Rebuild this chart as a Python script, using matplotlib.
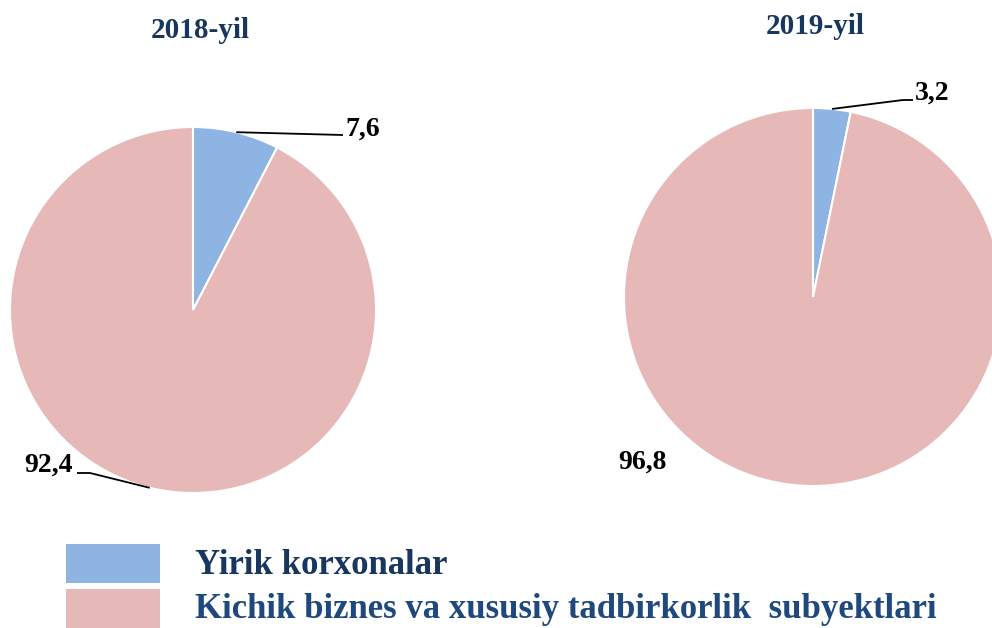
import numpy as np
import matplotlib
matplotlib.use("Agg")
import matplotlib.pyplot as plt
from matplotlib.patches import Rectangle

# ---- data ----
categories = ["Yirik korxonalar", "Kichik biznes va xususiy tadbirkorlik  subyektlari"]
years = ["2018-yil", "2019-yil"]
values_2018 = [7.6, 92.4]
values_2019 = [3.2, 96.8]
labels_2018 = ["7,6", "92,4"]
labels_2019 = ["3,2", "96,8"]

colors = ["#8EB4E3", "#E6B9B8"]
navy = "#17375E"
W, H = 992, 628

plt.rcParams['font.family'] = ['Liberation Serif', 'DejaVu Serif']

fig = plt.figure(figsize=(W / 100, H / 100), dpi=100)
ax = fig.add_axes([0, 0, 1, 1])

def py(y):
    return H - y

pies = [
    dict(vals=values_2018, labs=labels_2018, title=years[0], c=(193, py(310)), r=183,
         title_xy=(200, py(30)),
         lab=[dict(txt=(345, py(129)), ha='left', elbow=(343, py(135))),
              dict(txt=(73, py(465)), ha='right', elbow=(90, py(473)), elbow2=(77, py(473)))]),
    dict(vals=values_2019, labs=labels_2019, title=years[1], c=(813, py(297)), r=189,
         title_xy=(815, py(26)),
         lab=[dict(txt=(915, py(93)), ha='left', elbow=(903, py(100)), elbow2=(913, py(100))),
              dict(txt=(667, py(462)), ha='right', elbow=None)]),
]

for p in pies:
    wedges, _ = ax.pie(p['vals'], colors=colors, startangle=90, counterclock=False,
                       center=p['c'], radius=p['r'],
                       wedgeprops=dict(edgecolor='white', linewidth=1.5))
    cum = np.cumsum([0] + list(p['vals']))
    tot = cum[-1]
    for i, (v, lab) in enumerate(zip(p['vals'], p['labs'])):
        L = p['lab'][i]
        mid = (cum[i] + v / 2) / tot * 360  # clockwise from top
        th = np.deg2rad(90 - mid)
        ax_x = p['c'][0] + p['r'] * np.cos(th)
        ax_y = p['c'][1] + p['r'] * np.sin(th)
        if L['elbow'] is not None:
            xs = [ax_x, L['elbow'][0]]
            ys = [ax_y, L['elbow'][1]]
            if 'elbow2' in L:
                xs.append(L['elbow2'][0]); ys.append(L['elbow2'][1])
            ax.plot(xs, ys, color='black', lw=1.3, solid_capstyle='butt', zorder=5)
        ax.text(L['txt'][0], L['txt'][1], lab, ha=L['ha'], va='center',
                fontsize=20, fontweight='bold', color='black')
    ax.text(p['title_xy'][0], p['title_xy'][1], p['title'], ha='center', va='center',
            fontsize=21, fontweight='bold', color=navy)

# legend
leg_y = [py(583), py(628)]
leg_text_y = [py(566), py(610)]
for i, cat in enumerate(categories):
    ax.add_patch(Rectangle((66, leg_y[i]), 94, 39, facecolor=colors[i], edgecolor='none'))
    ax.text(195, leg_text_y[i], cat, ha='left', va='center', fontsize=25,
            fontweight='bold', color=navy if i == 0 else "#1F497D")

ax.set_xlim(0, W)
ax.set_ylim(0, H)
ax.set_aspect('equal')
ax.axis('off')
fig.savefig("out.png", dpi=100, facecolor='white')
